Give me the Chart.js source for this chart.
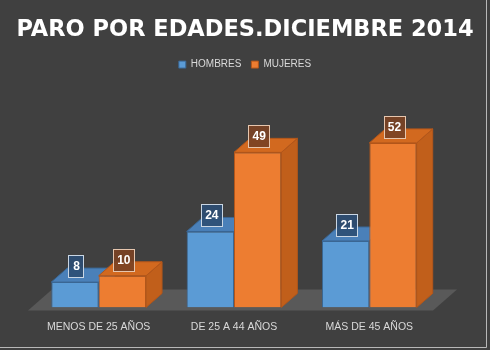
<!DOCTYPE html>
<html>
<head>
<meta charset="utf-8">
<script src="https://cdn.jsdelivr.net/npm/chart.js@4/dist/chart.umd.min.js"></script>
<style>
html,body{margin:0;padding:0;background:#404040;}
#wrap{width:490px;height:350px;position:relative;}
</style>
</head>
<body>
<div id="wrap"><canvas id="c" width="490" height="350"></canvas></div>
<script>
const categories = ["MENOS DE 25 AÑOS", "DE 25 A 44 AÑOS", "MÁS DE 45 AÑOS"];
const hombres = [8, 24, 21];
const mujeres = [10, 49, 52];
const seriesNames = ["HOMBRES", "MUJERES"];
const chartTitle = "PARO POR EDADES.DICIEMBRE 2014";

const DX = 16, DY = 14;
const faceColors = [
  {front: "#5b9bd5", top: "#4a80b9", side: "#3f6ea1", edge: "#3a6693", boxFill: "rgba(44,78,116,0.9)", boxBorder: "#c9d6e4"},
  {front: "#ed7d31", top: "#d2691f", side: "#c15f1b", edge: "#b3561a", boxFill: "rgba(122,66,36,0.92)", boxBorder: "#e6c6ae"}
];

function drawFaces(ctx, chart, di) {
  const meta = chart.getDatasetMeta(di);
  const c = faceColors[di];
  meta.data.forEach(bar => {
    const w = bar.width;
    const x1 = bar.x - w / 2, x2 = bar.x + w / 2;
    const top = bar.y, base = bar.base;
    ctx.beginPath();
    ctx.moveTo(x2, top); ctx.lineTo(x2 + DX, top - DY);
    ctx.lineTo(x2 + DX, base - DY); ctx.lineTo(x2, base); ctx.closePath();
    ctx.fillStyle = c.side; ctx.fill();
    ctx.strokeStyle = c.edge; ctx.lineWidth = 1; ctx.stroke();
    ctx.beginPath();
    ctx.moveTo(x1, top); ctx.lineTo(x1 + DX, top - DY);
    ctx.lineTo(x2 + DX, top - DY); ctx.lineTo(x2, top); ctx.closePath();
    ctx.fillStyle = c.top; ctx.fill();
    ctx.stroke();
  });
}

const threeD = {
  id: "threeD",
  beforeDraw(chart) {
    const ctx = chart.ctx;
    ctx.save();
    ctx.fillStyle = "#404040";
    ctx.fillRect(0, 0, chart.width, chart.height);
    ctx.strokeStyle = "#b8b8b8"; ctx.lineWidth = 1;
    ctx.beginPath(); ctx.moveTo(486.5, 0); ctx.lineTo(486.5, 347.5); ctx.lineTo(0, 347.5); ctx.stroke();
    ctx.restore();
  },
  beforeDatasetsDraw(chart) {
    const ctx = chart.ctx, a = chart.chartArea;
    const y0 = chart.scales.y.getPixelForValue(0);
    ctx.save();
    ctx.beginPath();
    ctx.moveTo(a.left - 3, y0 + 3);
    ctx.lineTo(a.right - 4, y0 + 3);
    ctx.lineTo(a.right - 4 + 24, y0 + 3 - 21);
    ctx.lineTo(a.left - 3 + 24, y0 + 3 - 21);
    ctx.closePath();
    ctx.fillStyle = "#595959"; ctx.fill();
    drawFaces(ctx, chart, 0);
    ctx.restore();
  },
  afterDatasetsDraw(chart) {
    const ctx = chart.ctx;
    ctx.save();
    drawFaces(ctx, chart, 1);
    ctx.font = "bold 12px 'Liberation Sans', Arial, sans-serif";
    ctx.textAlign = "center"; ctx.textBaseline = "middle";
    chart.data.datasets.forEach((ds, di) => {
      const c = faceColors[di];
      chart.getDatasetMeta(di).data.forEach((bar, i) => {
        const txt = String(ds.data[i]);
        const tw = ctx.measureText(txt).width;
        const bw = Math.round(tw + 8), bh = 22;
        const cx = bar.x + 1;
        const bottom = bar.y - 5;
        const bx = Math.round(cx - bw / 2) + 0.5, by = Math.round(bottom - bh) + 0.5;
        ctx.fillStyle = c.boxFill;
        ctx.fillRect(bx, by, bw, bh);
        ctx.strokeStyle = c.boxBorder; ctx.lineWidth = 1;
        ctx.strokeRect(bx, by, bw, bh);
        ctx.fillStyle = "#ffffff";
        ctx.fillText(txt, cx + 0.5, by + bh / 2 + 0.5);
      });
    });
    ctx.restore();
  }
};

const hiddenSide = (w, pos) => ({
  display: true, position: pos, min: 0, max: 72,
  grid: {display: false, drawTicks: false},
  border: {display: false},
  ticks: {display: false},
  afterFit: s => { s.width = w; }
});

new Chart(document.getElementById("c"), {
  type: "bar",
  data: {
    labels: categories,
    datasets: [
      {label: seriesNames[0], data: hombres, backgroundColor: faceColors[0].front, borderColor: faceColors[0].edge, borderWidth: 1},
      {label: seriesNames[1], data: mujeres, backgroundColor: faceColors[1].front, borderColor: faceColors[1].edge, borderWidth: 1}
    ]
  },
  options: {
    responsive: false,
    animation: false,
    layout: {padding: {left: 0, right: 0, top: 0, bottom: 4}},
    datasets: {bar: {barPercentage: 1, categoryPercentage: 0.7}},
    plugins: {
      title: {
        display: true, text: chartTitle, color: "#ffffff",
        font: {family: "'DejaVu Sans', sans-serif", size: 22.5, weight: "bold", lineHeight: 1.2},
        padding: {top: 16.3, bottom: 6.3}
      },
      legend: {
        display: true, position: "top",
        labels: {
          color: "#d9d9d9", boxWidth: 7, boxHeight: 7, padding: 10,
          font: {family: "'Liberation Sans', sans-serif", size: 10}
        }
      },
      tooltip: {enabled: false}
    },
    scales: {
      x: {
        grid: {display: false, drawTicks: false},
        border: {display: false},
        ticks: {color: "#d9d9d9", padding: 13, font: {family: "'Liberation Sans', sans-serif", size: 10.5}}
      },
      y: hiddenSide(31, "left"),
      y2: hiddenSide(53, "right")
    }
  },
  plugins: [threeD]
});
</script>
</body>
</html>
